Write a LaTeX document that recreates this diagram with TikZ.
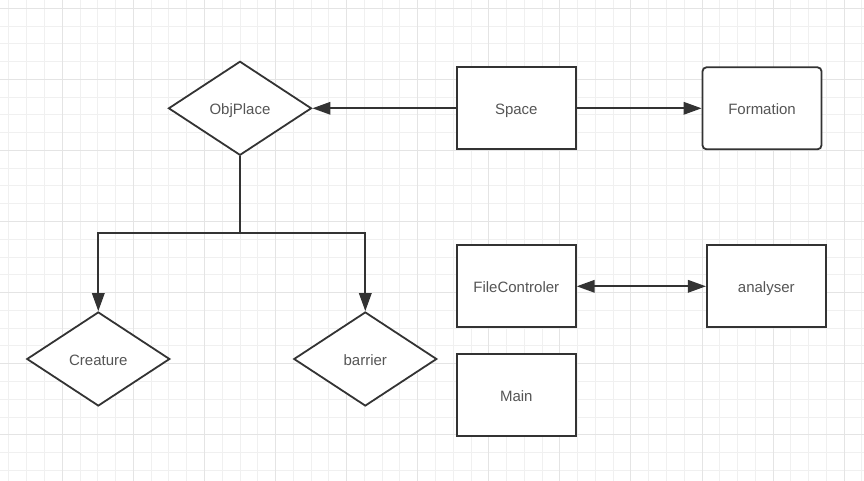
\documentclass[tikz,border=0pt]{standalone}
\usepackage{fontspec}
\setmainfont{Liberation Sans}
\usetikzlibrary{shapes.geometric,arrows.meta}
\definecolor{minorgrid}{RGB}{240,240,240}
\definecolor{majorgrid}{RGB}{228,228,228}
\definecolor{edgecol}{RGB}{51,51,51}
\definecolor{textcol}{RGB}{85,85,85}
\tikzset{
  lbl/.style={text=textcol, font=\fontsize{15}{18}\selectfont,
    text height=13pt, text depth=0pt},
  box/.style={draw=edgecol, line width=1.8pt, fill=white, rectangle,
    minimum width=119pt, minimum height=82pt, inner sep=0pt, lbl},
  rbox/.style={box, rounded corners=4pt},
  dia/.style={draw=edgecol, line width=1.8pt, fill=white, diamond,
    minimum width=143pt, minimum height=94pt, inner sep=0pt, lbl},
  conn/.style={draw=edgecol, line width=1.8pt},
  head/.tip={Triangle[length=18pt,width=12.5pt]},
  tip/.style={-head},
}
\begin{document}
\begin{tikzpicture}[x=1pt,y=-1pt]
\useasboundingbox (0,0) rectangle (864,481);
\fill[white] (0,0) rectangle (864,481);
% grid: minor lines
\draw[minorgrid, line width=1pt]
  \foreach \k in {-3,...,45} { (62.3+17.77*\k,0) -- (62.3+17.77*\k,481) }
  \foreach \k in {0,...,26} { (0,8.3+17.77*\k) -- (864,8.3+17.77*\k) };
% grid: major lines
\draw[majorgrid, line width=1pt]
  \foreach \m in {0,...,11} { (62.3+71.08*\m,0) -- (62.3+71.08*\m,481) }
  \foreach \m in {0,...,6} { (0,8.3+71.08*\m) -- (864,8.3+71.08*\m) };
% nodes
\node[dia] (objplace) at (240,108.3) {ObjPlace};
\node[box] (space) at (516.3,108.3) {Space};
\node[rbox] (formation) at (762,108.3) {Formation};
\node[dia] (creature) at (98.3,359) {Creature};
\node[dia] (barrier) at (365.3,359) {barrier};
\node[box] (filectl) at (516.3,286.3) {FileControler};
\node[box] (analyser) at (766.3,286.3) {analyser};
\node[box] (main) at (516.3,395.3) {Main};
\coordinate (bus) at (240,233.3);
% connectors
\draw[conn, tip] (space.west) -- (objplace.east);
\draw[conn, tip] (space.east) -- (formation.west);
\draw[conn, head-head] (filectl.east) -- (analyser.west);
\draw[conn] (objplace.south) -- (bus);
\draw[conn, tip] (bus) -| (creature.north);
\draw[conn, tip] (bus) -| (barrier.north);
\end{tikzpicture}
\end{document}
